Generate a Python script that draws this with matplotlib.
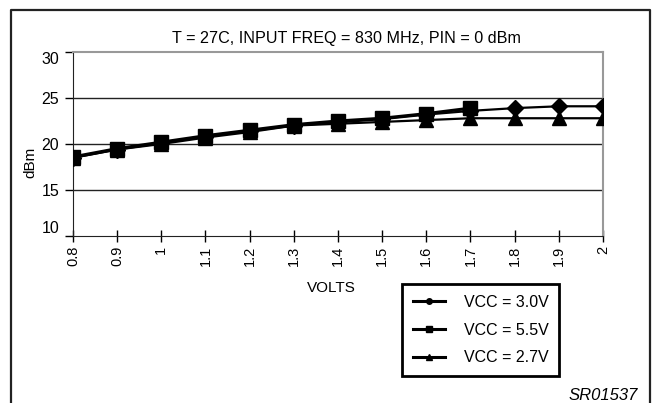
import matplotlib
matplotlib.use("Agg")
import matplotlib.pyplot as plt
from matplotlib.lines import Line2D

plt.rcParams['font.family'] = ['Liberation Sans', 'DejaVu Sans']

# data
volts = [0.8, 0.9, 1.0, 1.1, 1.2, 1.3, 1.4, 1.5, 1.6, 1.7, 1.8, 1.9, 2.0]
vcc_30 = [18.5, 19.4, 20.1, 20.8, 21.4, 22.0, 22.35, 22.7, 23.2, 23.6, 23.9, 24.1, 24.1]
vcc_55 = [18.6, 19.5, 20.2, 20.9, 21.5, 22.1, 22.5, 22.8, 23.3, 23.9]
vcc_27 = [18.5, 19.4, 20.0, 20.7, 21.3, 22.0, 22.2, 22.4, 22.6, 22.8, 22.8, 22.8, 22.8]
labels = ['VCC = 3.0V', 'VCC = 5.5V', 'VCC = 2.7V']
x_ticks = [0.8, 0.9, 1.0, 1.1, 1.2, 1.3, 1.4, 1.5, 1.6, 1.7, 1.8, 1.9, 2.0]
x_ticklabels = ['0.8', '0.9', '1', '1.1', '1.2', '1.3', '1.4', '1.5', '1.6', '1.7', '1.8', '1.9', '2']
y_ticks = [10, 15, 20, 25, 30]

W, H = 654, 403
fig = plt.figure(figsize=(W / 100, H / 100), dpi=100)
ax = fig.add_axes([73 / W, 1 - 236 / H, (603 - 73) / W, (236 - 52) / H])

ax.plot(volts, vcc_30, color='black', lw=1.6, marker='D', ms=8, zorder=3)
ax.plot(volts, vcc_27, color='black', lw=1.6, marker='^', ms=10, zorder=3)
ax.plot(volts[:len(vcc_55)], vcc_55, color='black', lw=2.2, marker='s', ms=9.5, zorder=4)

ax.set_xlim(0.8, 2.0)
ax.set_ylim(10, 30)
ax.set_xticks(x_ticks)
ax.set_xticklabels(x_ticklabels, rotation=90, fontsize=10.5)
ax.set_yticks(y_ticks)
ax.set_yticklabels([str(v) for v in y_ticks], fontsize=11.5)
for lab in ax.get_yticklabels():
    if lab.get_text() == '30':
        lab.set_va('top')
    elif lab.get_text() == '10':
        lab.set_va('bottom')
ax.tick_params(axis='x', direction='inout', length=8, width=1, pad=3)
ax.tick_params(axis='y', direction='out', length=6, width=1, pad=4)

for v in [15, 20, 25]:
    ax.axhline(v, color='#222222', lw=1, zorder=1)
ax.spines['top'].set_color('#999999')
ax.spines['right'].set_color('#999999')
ax.spines['top'].set_linewidth(1.5)
ax.spines['right'].set_linewidth(1.5)
ax.spines['left'].set_color('#222222')
ax.spines['bottom'].set_color('#222222')

fig.text(331.7 / W, 1 - 287.5 / H, 'VOLTS', fontsize=11, ha='center', va='center')
fig.text(30 / W, 1 - 162 / H, 'dBm', rotation=90, fontsize=11, ha='center', va='center')
fig.text(346.7 / W, 1 - 38 / H, 'T = 27C, INPUT FREQ = 830 MHz, PIN = 0 dBm',
         fontsize=11.6, ha='center', va='center')
fig.text(638 / W, 1 - 395 / H, 'SR01537', fontsize=12, style='italic', ha='right', va='center')

# outer frame (open at the bottom)
fig.add_artist(Line2D([11 / W, 11 / W, 650 / W, 650 / W], [0, 1 - 10 / H, 1 - 10 / H, 0],
                      transform=fig.transFigure, color='#222222', lw=1.6))

handles = [
    Line2D([], [], color='black', lw=2.2, marker='o', ms=4),
    Line2D([], [], color='black', lw=2.2, marker='s', ms=4),
    Line2D([], [], color='black', lw=2.2, marker='^', ms=4.5),
]
leg = fig.legend(handles, labels, loc='upper left', bbox_to_anchor=(401.7 / W, 1 - 284 / H),
                 fontsize=11.5, frameon=True, fancybox=False, framealpha=1,
                 handlelength=2.05, handletextpad=1.15, labelspacing=0.8,
                 borderpad=0.68, borderaxespad=0)
leg.get_frame().set_edgecolor('black')
leg.get_frame().set_linewidth(2)

fig.savefig('out.png', dpi=100)
